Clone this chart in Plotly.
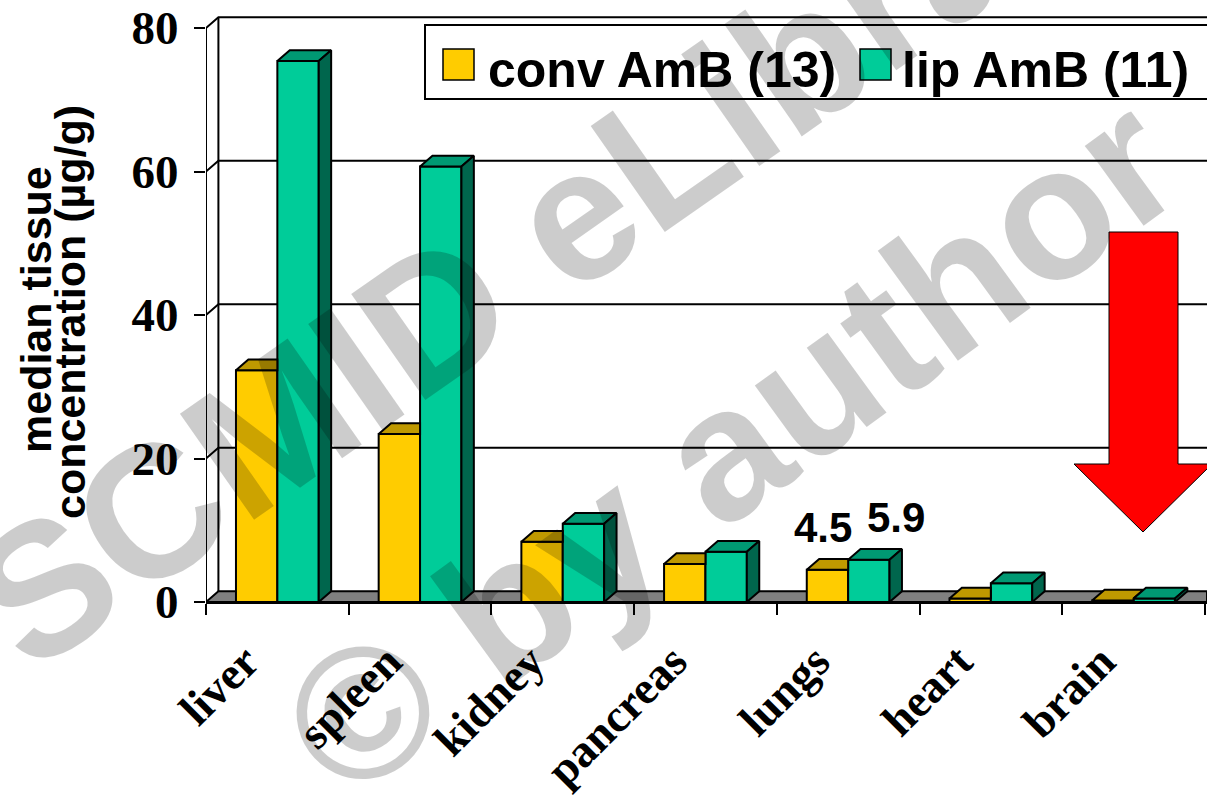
import plotly.graph_objects as go

# ---- data -------------------------------------------------------------
categories = ["liver", "spleen", "kidney", "pancreas", "lungs", "heart", "brain"]
conv_amb = [32.3, 23.4, 8.4, 5.3, 4.5, 0.5, 0.2]
lip_amb = [75.4, 60.7, 10.9, 7.0, 5.9, 2.6, 0.5]
series_names = ["conv AmB (13)", "lip AmB (11)"]
y_ticks = [0, 20, 40, 60, 80]
y_title_lines = ["median tissue", "concentration (µg/g)"]
labelled_category = "lungs"

# ---- styling ----------------------------------------------------------
CONV_FRONT, CONV_TOP = "#FFCC00", "#BF9900"
LIP_FRONT, LIP_TOP, LIP_SIDE = "#00CC99", "#009973", "#00664D"
FLOOR = "#808080"
SANS = "Liberation Sans"
SERIF = "Liberation Serif"

W = 0.29            # width of one bar in category units
DX, DY = 0.087, 1.5  # oblique depth offset of the 3-D look (x units, y units)

FIG_W, FIG_H = 1207, 798
M_L, M_R, M_T, M_B = 206, 0, 16, 196
PLOT_W = FIG_W - M_L - M_R
PLOT_H = FIG_H - M_T - M_B
CAT_PX = 142.7                       # pixels per category
X_MIN = -0.5
X_MAX = X_MIN + PLOT_W / CAT_PX
Y_PX = (FIG_H - M_B - 28) / 80.0     # pixels per unit so that 80 sits near the top
Y_MAX = PLOT_H / Y_PX


def px(x):
    """pixel x -> paper x"""
    return (x - M_L) / PLOT_W


def py(y):
    """pixel y -> paper y"""
    return (FIG_H - M_B - y) / PLOT_H


idx = list(range(len(categories)))

fig = go.Figure()

# front faces of the bars
fig.add_trace(go.Bar(x=idx, y=conv_amb, width=W, offset=-W, name=series_names[0],
                     marker=dict(color=CONV_FRONT, line=dict(color="black", width=2)),
                     hoverinfo="skip"))
fig.add_trace(go.Bar(x=idx, y=lip_amb, width=W, offset=0, name=series_names[1],
                     marker=dict(color=LIP_FRONT, line=dict(color="black", width=2)),
                     hoverinfo="skip"))


def polys_trace(polys, color):
    xs, ys = [], []
    for pxs, pys in polys:
        xs += pxs + [pxs[0], None]
        ys += pys + [pys[0], None]
    return go.Scatter(x=xs, y=ys, mode="lines", fill="toself", fillcolor=color,
                      line=dict(color="black", width=2), hoverinfo="skip",
                      showlegend=False)


# top faces of conv bars, trimmed where the neighbouring lip bar hides them
conv_tops = []
for i, (c, l) in enumerate(zip(conv_amb, lip_amb)):
    x0, x1 = i - W, i
    if l >= c + DY:
        conv_tops.append(([x0, x1, x1, x0 + DX], [c, c, c + DY, c + DY]))
    else:
        xc = x1 + (c + DY - l) * DX / DY
        conv_tops.append(([x0, x1, x1, xc, x0 + DX], [c, c, l, c + DY, c + DY]))

lip_tops, lip_sides = [], []
for i, l in enumerate(lip_amb):
    x0, x1 = i, i + W
    lip_tops.append(([x0, x1, x1 + DX, x0 + DX], [l, l, l + DY, l + DY]))
    lip_sides.append(([x1, x1 + DX, x1 + DX, x1], [0, DY, l + DY, l]))

fig.add_trace(polys_trace(conv_tops, CONV_TOP))
fig.add_trace(polys_trace(lip_tops, LIP_TOP))
fig.add_trace(polys_trace(lip_sides, LIP_SIDE))

shapes = []
# floor of the box
shapes.append(dict(type="path", xref="x", yref="y", layer="below",
                   path=f"M{X_MIN},0 L{X_MAX},0 L{X_MAX},{DY} L{X_MIN + DX},{DY} Z",
                   fillcolor=FLOOR, line=dict(color="black", width=2)))
# back wall left edge and front value axis
shapes.append(dict(type="line", xref="x", yref="y", layer="below",
                   x0=X_MIN + DX, y0=DY, x1=X_MIN + DX, y1=y_ticks[-1] + DY,
                   line=dict(color="black", width=2)))
shapes.append(dict(type="line", xref="x", yref="y", layer="between",
                   x0=X_MIN, y0=0, x1=X_MIN, y1=y_ticks[-1],
                   line=dict(color="black", width=2)))
# gridlines running along the side wall and across the back wall
for v in y_ticks[1:]:
    shapes.append(dict(type="path", xref="x", yref="y", layer="below",
                       path=f"M{X_MIN},{v} L{X_MIN + DX},{v + DY} L{X_MAX},{v + DY}",
                       line=dict(color="black", width=2)))

# legend box
shapes.append(dict(type="rect", xref="paper", yref="paper", layer="above",
                   x0=px(425), x1=px(1216), y0=py(99), y1=py(25),
                   fillcolor="white", line=dict(color="black", width=2)))
for (sx, col) in [(443, CONV_FRONT), (860, LIP_FRONT)]:
    shapes.append(dict(type="rect", xref="paper", yref="paper", layer="above",
                       x0=px(sx), x1=px(sx + 31), y0=py(80), y1=py(49),
                       fillcolor=col, line=dict(color="black", width=1.5)))

# red arrow pointing down at the brain bars
arrow_pts = [(1109, 232), (1178, 232), (1178, 464), (1212, 464), (1143, 532),
             (1074, 464), (1109, 464)]
arrow_path = "M" + " L".join(f"{px(a)},{py(b)}" for a, b in arrow_pts) + " Z"
shapes.append(dict(type="path", xref="paper", yref="paper", layer="above",
                   path=arrow_path, fillcolor="#FF0000",
                   line=dict(color="black", width=1)))

annotations = []
# y-axis title, two lines
for (tx, ty), line_text in zip([(36, 310), (70, 312)], y_title_lines):
    annotations.append(dict(xref="paper", yref="paper", x=px(tx), y=py(ty),
                            text=f"<b>{line_text}</b>", textangle=-90, showarrow=False,
                            xanchor="center", yanchor="middle",
                            font=dict(family=SANS, size=43, color="black")))

# legend labels
for lx, name in zip([486, 900], series_names):
    annotations.append(dict(xref="paper", yref="paper", x=px(lx), y=py(70),
                            text=f"<b>{name}</b>", showarrow=False,
                            xanchor="left", yanchor="middle",
                            font=dict(family=SANS, size=50, color="black")))

# value labels on the lungs bars
li = categories.index(labelled_category)
for xv, val, xs in [(li - W / 2, conv_amb[li], -4), (li + W / 2, lip_amb[li], 27)]:
    annotations.append(dict(xref="x", yref="y", x=xv, y=val, text=f"<b>{val:g}</b>",
                            showarrow=False, xshift=xs, yshift=42,
                            xanchor="center", yanchor="middle",
                            font=dict(family=SANS, size=42, color="black")))

# watermark
for (wx, wy), wtext, ang in [((566, 222), "SCMID eLibrary", -35),
                             ((730, 446), "© by author", -36)]:
    annotations.append(dict(xref="paper", yref="paper", x=px(wx), y=py(wy), text=wtext,
                            textangle=ang, showarrow=False,
                            xanchor="center", yanchor="middle",
                            font=dict(family=SANS, size=188, color="rgba(0,0,0,0.2)",
                                      weight="bold")))

fig.update_layout(
    width=FIG_W, height=FIG_H,
    margin=dict(l=M_L, r=M_R, t=M_T, b=M_B, autoexpand=False),
    plot_bgcolor="white", paper_bgcolor="white",
    barmode="overlay", showlegend=False,
    shapes=shapes, annotations=annotations,
    xaxis=dict(range=[X_MIN, X_MAX], tickmode="array", tickvals=idx, ticktext=categories,
               tickangle=-45, ticks="", showline=True, linecolor="black", linewidth=2,
               showgrid=False, zeroline=False, automargin=False,
               tickfont=dict(family=SERIF, size=46, color="black", weight="bold"),
               ticklabelstandoff=12, ticklabelshift=-32,
               minor=dict(tickmode="array",
                          tickvals=[i - 0.5 for i in range(len(categories) + 1)],
                          ticks="outside", ticklen=11, tickwidth=2, tickcolor="black",
                          showgrid=False)),
    yaxis=dict(range=[0, Y_MAX], tickmode="array", tickvals=y_ticks,
               ticks="outside", ticklen=11, tickwidth=2, tickcolor="black",
               showline=False, showgrid=False, zeroline=False, automargin=False,
               tickfont=dict(family=SERIF, size=47, color="black", weight="bold"),
               ticklabelstandoff=6),
)

fig.write_html("out.html")
